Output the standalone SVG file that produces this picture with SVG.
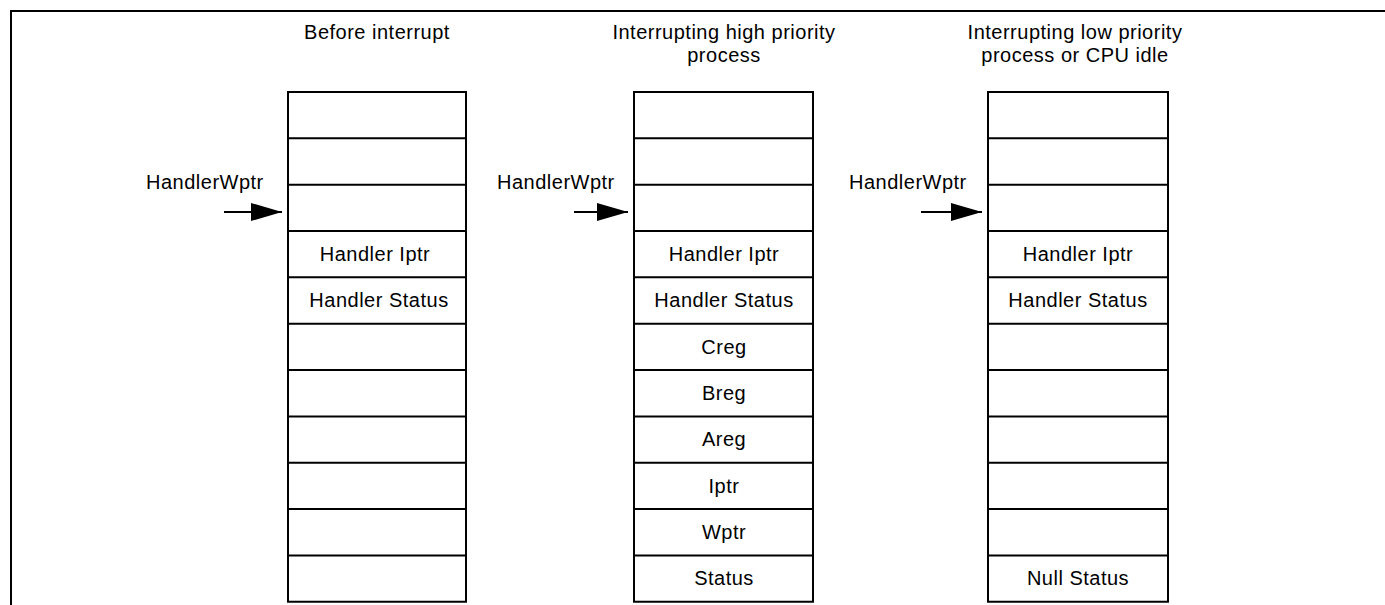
<svg xmlns="http://www.w3.org/2000/svg" width="1385" height="605" viewBox="0 0 1385 605">
<style>
  .frame { fill: none; stroke: #000; stroke-width: 2; }
  .box { fill: #fff; stroke: #000; stroke-width: 2; }
  .sep { stroke: #000; stroke-width: 2; }
  .t { font-family: "Liberation Sans", Arial, Helvetica, sans-serif; font-size: 20px; letter-spacing: 0.5px; fill: #000; text-anchor: middle; }
  .lbl { font-family: "Liberation Sans", Arial, Helvetica, sans-serif; font-size: 20px; letter-spacing: 0.5px; fill: #000; text-anchor: start; }
  .arr { stroke: #000; stroke-width: 2; fill: none; marker-end: url(#ah); }
</style>
<defs>
  <marker id="ah" viewBox="0 0 31 18" refX="31" refY="9" markerWidth="31" markerHeight="18" markerUnits="userSpaceOnUse" orient="auto">
    <path d="M0,0 L31,9 L0,18 Z" fill="#000"/>
  </marker>
  <g id="rowlines">
    <line class="sep" x1="0" y1="138.34" x2="180" y2="138.34"/>
    <line class="sep" x1="0" y1="184.68" x2="180" y2="184.68"/>
    <line class="sep" x1="0" y1="231.02" x2="180" y2="231.02"/>
    <line class="sep" x1="0" y1="277.36" x2="180" y2="277.36"/>
    <line class="sep" x1="0" y1="323.7" x2="180" y2="323.7"/>
    <line class="sep" x1="0" y1="370.04" x2="180" y2="370.04"/>
    <line class="sep" x1="0" y1="416.38" x2="180" y2="416.38"/>
    <line class="sep" x1="0" y1="462.72" x2="180" y2="462.72"/>
    <line class="sep" x1="0" y1="509.06" x2="180" y2="509.06"/>
    <line class="sep" x1="0" y1="555.4" x2="180" y2="555.4"/>
  </g>
</defs>
<rect x="0" y="0" width="1385" height="605" fill="#fff"/>
<g id="frame">
  <polyline class="frame" points="11,605 11,11 1385,11"/>
</g>

<g id="stack1">
  <text class="t" x="377" y="39">Before interrupt</text>
  <rect class="box" x="288" y="92" width="178" height="509.74"/>
  <g transform="translate(288,0) scale(0.9889,1)"><use href="#rowlines"/></g>
  <text class="lbl" x="146" y="189">HandlerWptr</text>
  <text class="t" x="375" y="261">Handler Iptr</text>
  <text class="t" x="379" y="307">Handler Status</text>
</g>

<g id="stack2">
  <text class="t" x="724" y="39">Interrupting high priority</text>
  <text class="t" x="724" y="62">process</text>
  <rect class="box" x="634" y="92" width="179" height="509.74"/>
  <g transform="translate(634,0) scale(0.99444,1)"><use href="#rowlines"/></g>
  <text class="lbl" x="497" y="189">HandlerWptr</text>
  <text class="t" x="724" y="261">Handler Iptr</text>
  <text class="t" x="724" y="307">Handler Status</text>
  <text class="t" x="724" y="354">Creg</text>
  <text class="t" x="724" y="400">Breg</text>
  <text class="t" x="724" y="446">Areg</text>
  <text class="t" x="724" y="493">Iptr</text>
  <text class="t" x="724" y="539">Wptr</text>
  <text class="t" x="724" y="585">Status</text>
</g>

<g id="stack3">
  <text class="t" x="1075" y="39">Interrupting low priority</text>
  <text class="t" x="1075" y="62">process or CPU idle</text>
  <rect class="box" x="988" y="92" width="180" height="509.74"/>
  <g transform="translate(988,0)"><use href="#rowlines"/></g>
  <text class="lbl" x="849" y="189">HandlerWptr</text>
  <text class="t" x="1078" y="261">Handler Iptr</text>
  <text class="t" x="1078" y="307">Handler Status</text>
  <text class="t" x="1078" y="585">Null Status</text>
</g>

<g id="connectors">
  <line class="arr" x1="224" y1="212" x2="282" y2="212"/>
  <line class="arr" x1="574" y1="212" x2="628" y2="212"/>
  <line class="arr" x1="921" y1="212" x2="982" y2="212"/>
</g>
</svg>
